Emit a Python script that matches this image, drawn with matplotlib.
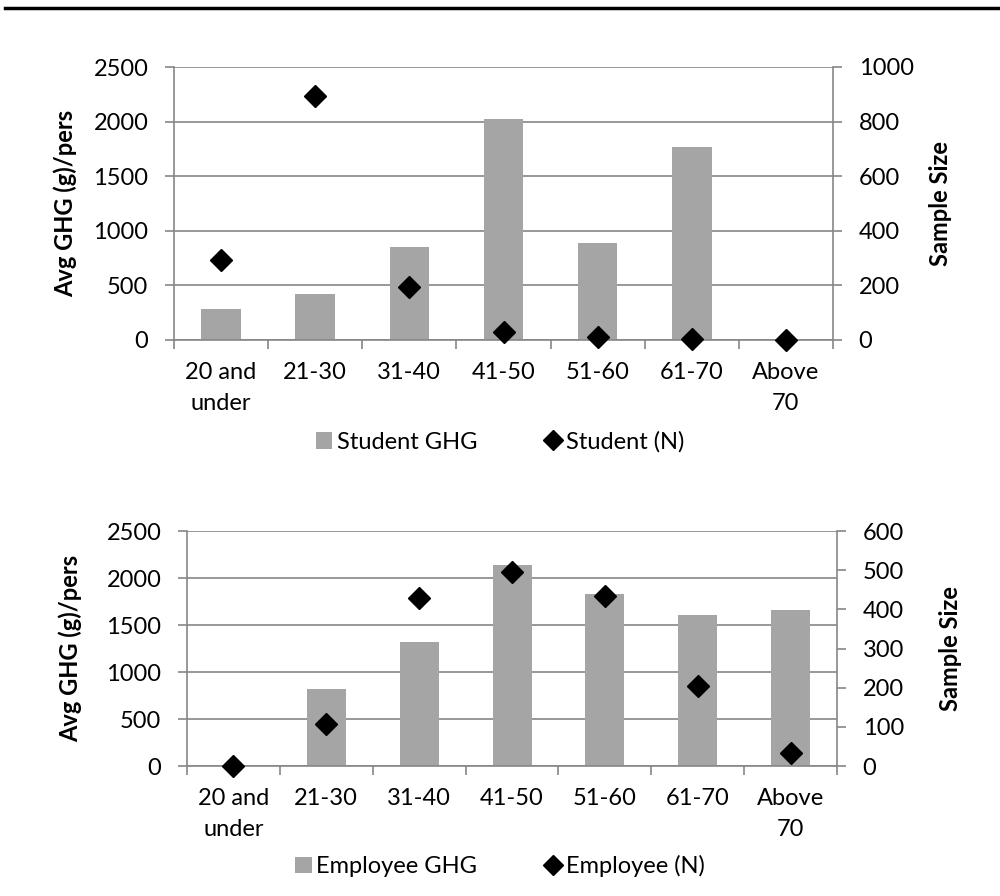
import matplotlib
matplotlib.use("Agg")
import matplotlib.pyplot as plt
from matplotlib.lines import Line2D
from matplotlib.patches import Patch

plt.rcParams['font.family'] = ['Lato', 'DejaVu Sans']

categories = ["20 and\nunder", "21-30", "31-40", "41-50", "51-60", "61-70", "Above\n70"]
student_ghg = [284, 421, 852, 2024, 888, 1767, 0]
student_n = [293, 894, 194, 29, 10, 3, 0]
employee_ghg = [0, 815, 1319, 2138, 1827, 1603, 1660]
employee_n = [0, 106, 430, 496, 433, 205, 32]

BAR = "#A5A5A5"
GRID = "#868686"
FS = 17

fig = plt.figure(figsize=(10, 8.96), dpi=100)
fig.add_artist(Line2D([0.005, 1.0], [1 - 8/896, 1 - 8/896], color="black", lw=2.5))


def panel(rect, ghg, n, rmax, rstep, lab_bar, lab_n, ylab_x, rlab_x, leg_y):
    ax = fig.add_axes(rect)
    x = list(range(len(categories)))
    ax.bar(x, ghg, width=0.42, color=BAR, zorder=2)
    ax.set_xlim(-0.5, len(categories) - 0.5)
    ax.set_ylim(0, 2500)
    ax.set_yticks(range(0, 2501, 500))
    ax.yaxis.grid(True, color=GRID, lw=1.2, zorder=0)
    ax.set_axisbelow(True)
    ax.set_xticks(x)
    ax.set_xticklabels(categories, fontsize=FS, linespacing=1.6)
    ax.set_xticks([i - 0.5 for i in range(len(categories) + 1)], minor=True)
    ax.tick_params(axis='x', which='major', length=0, pad=16)
    ax.tick_params(axis='x', which='minor', length=6.5, color=GRID, width=1.2)
    ax.tick_params(axis='y', length=6.5, color=GRID, width=1.2, labelsize=FS, pad=12)
    for s in ["top", "right"]:
        ax.spines[s].set_visible(False)
    for s in ["left", "bottom"]:
        ax.spines[s].set_color(GRID)
        ax.spines[s].set_linewidth(1.2)
    ax2 = ax.twinx()
    ax2.plot(x, n, linestyle="none", marker="D", markersize=11, color="black", zorder=5, clip_on=False)
    ax2.set_ylim(0, rmax)
    ax2.set_yticks(range(0, rmax + 1, rstep))
    ax2.tick_params(axis='y', length=6.5, color=GRID, width=1.2, labelsize=FS, pad=12)
    for s in ["top", "left", "bottom"]:
        ax2.spines[s].set_visible(False)
    ax2.spines["right"].set_color(GRID)
    ax2.spines["right"].set_linewidth(1.2)
    fig.text(ylab_x, rect[1] + rect[3] / 2, "Avg GHG (g)/pers", rotation=90, fontsize=FS,
             fontweight="bold", ha="center", va="center")
    fig.text(rlab_x, rect[1] + rect[3] / 2, "Sample Size", rotation=90, fontsize=FS,
             fontweight="bold", ha="center", va="center")
    handles = [Patch(facecolor=BAR, edgecolor="none", label=lab_bar),
               Line2D([], [], linestyle="none", marker="D", markersize=10, color="black", label=lab_n)]
    fig.legend(handles=handles, loc="center", bbox_to_anchor=(0.5, leg_y), ncol=2, frameon=False,
               fontsize=FS, handlelength=0.7, handleheight=0.7, handletextpad=0.2, columnspacing=2.85)
    return ax


panel([0.174, 1 - 340/896, 0.659, (340 - 67)/896], student_ghg, student_n, 1000, 200,
      "Student GHG", "Student (N)", 0.065, 0.94, 1 - 442/896)
panel([0.187, 1 - 766/896, 0.650, (766 - 531)/896], employee_ghg, employee_n, 600, 100,
      "Employee GHG", "Employee (N)", 0.07, 0.95, 1 - 866/896)

fig.savefig("out.png", dpi=100)
